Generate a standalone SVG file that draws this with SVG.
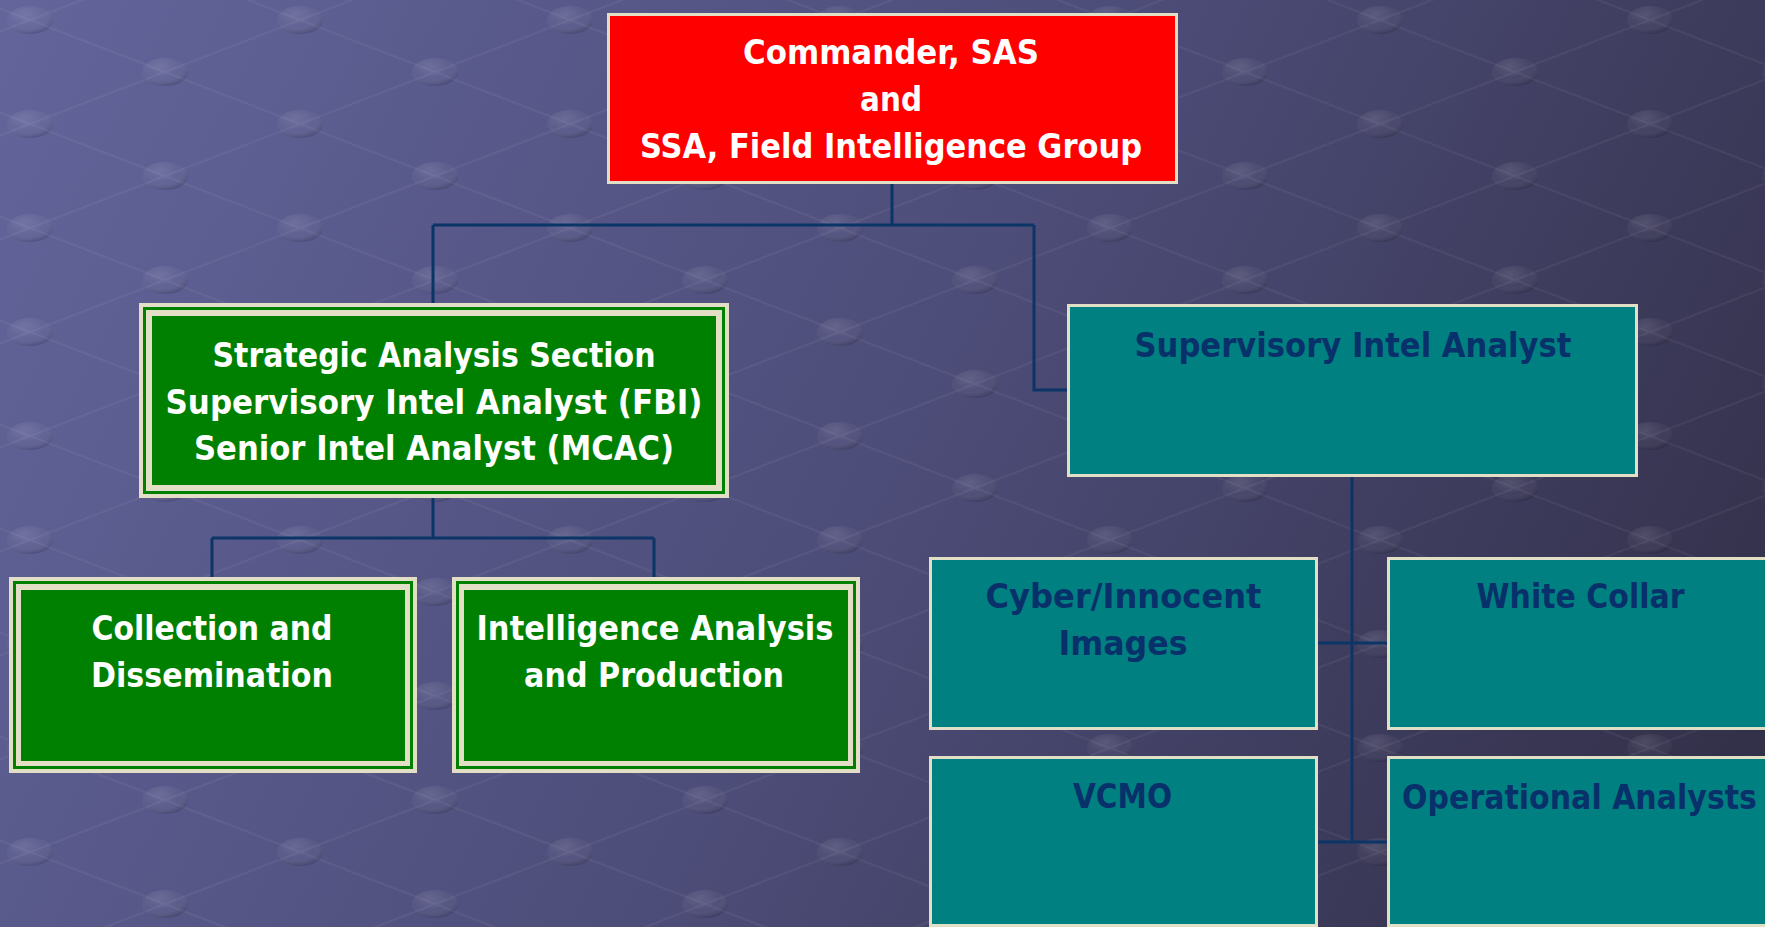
<svg xmlns="http://www.w3.org/2000/svg" width="1765" height="927" viewBox="0 0 1765 927">
<defs>
  <linearGradient id="bg" x1="0" y1="0" x2="1765" y2="927" gradientUnits="userSpaceOnUse">
    <stop offset="0" stop-color="#63659b"/>
    <stop offset="0.5" stop-color="#4d4d79"/>
    <stop offset="1" stop-color="#302d44"/>
  </linearGradient>
  <radialGradient id="dot" cx="0.4" cy="0.3" r="0.7">
    <stop offset="0" stop-color="#ffffff" stop-opacity="0.12"/>
    <stop offset="0.6" stop-color="#ffffff" stop-opacity="0.03"/>
    <stop offset="1" stop-color="#000000" stop-opacity="0.14"/>
  </radialGradient>
  <pattern id="grid" x="30" y="20" width="270" height="104" patternUnits="userSpaceOnUse">
    <path d="M0 0 L270 104 M0 104 L270 0" stroke="#ffffff" stroke-opacity="0.05" stroke-width="2" fill="none"/>
    <ellipse cx="0" cy="0" rx="23" ry="14" fill="url(#dot)"/>
    <ellipse cx="270" cy="0" rx="23" ry="14" fill="url(#dot)"/>
    <ellipse cx="0" cy="104" rx="23" ry="14" fill="url(#dot)"/>
    <ellipse cx="270" cy="104" rx="23" ry="14" fill="url(#dot)"/>
    <ellipse cx="135" cy="52" rx="23" ry="14" fill="url(#dot)"/>
  </pattern>
</defs>
<style>
  .conn{fill:none;stroke:#0b3566;stroke-width:3}
  .t{font-family:"DejaVu Sans","Liberation Sans",sans-serif;font-weight:bold;font-size:34px;text-anchor:middle}
  .w{fill:#ffffff}
  .n{fill:#08306a}
  .cream{fill:#e3dfc6}
  .green{fill:#008000}
  .red{fill:#ff0000;stroke:#e3dfc6;stroke-width:3}
  .teal{fill:#008080;stroke:#e3dfc6;stroke-width:3}
</style>

<g id="background">
  <rect x="0" y="0" width="1765" height="927" fill="url(#bg)"/>
  <rect x="0" y="0" width="1765" height="927" fill="url(#grid)"/>
</g>

<g id="connectors">
  <path class="conn" d="M892 184 V225 M433 225 H1034 M433 225 V303 M1034 225 V390 H1067"/>
  <path class="conn" d="M433 498 V538 M212 538 H654 M212 538 V577 M654 538 V577"/>
  <path class="conn" d="M1352 477 V842 M1318 643 H1387 M1318 842 H1387"/>
</g>

<g id="commander">
  <rect class="red" x="608.5" y="14.5" width="568" height="168"/>
  <text class="t w" x="891" y="64" textLength="296" lengthAdjust="spacingAndGlyphs">Commander, SAS</text>
  <text class="t w" x="891" y="111" textLength="62" lengthAdjust="spacingAndGlyphs">and</text>
  <text class="t w" x="891" y="158" textLength="502" lengthAdjust="spacingAndGlyphs">SSA, Field Intelligence Group</text>
</g>

<g id="strategic-analysis-section">
  <rect class="cream" x="139" y="303" width="590" height="195"/>
  <rect class="green" x="143" y="307" width="582" height="187"/>
  <rect class="cream" x="146" y="310" width="576" height="181"/>
  <rect class="green" x="152" y="316" width="564" height="169"/>
  <text class="t w" x="434" y="367" textLength="443" lengthAdjust="spacingAndGlyphs">Strategic Analysis Section</text>
  <text class="t w" x="434" y="414" textLength="537" lengthAdjust="spacingAndGlyphs">Supervisory Intel Analyst (FBI)</text>
  <text class="t w" x="434" y="460" textLength="480" lengthAdjust="spacingAndGlyphs">Senior Intel Analyst (MCAC)</text>
</g>

<g id="collection-dissemination">
  <rect class="cream" x="9" y="577" width="408" height="196"/>
  <rect class="green" x="13" y="581" width="400" height="188"/>
  <rect class="cream" x="16" y="584" width="394" height="182"/>
  <rect class="green" x="21" y="590" width="384" height="171"/>
  <text class="t w" x="212" y="640" textLength="241" lengthAdjust="spacingAndGlyphs">Collection and</text>
  <text class="t w" x="212" y="687" textLength="242" lengthAdjust="spacingAndGlyphs">Dissemination</text>
</g>

<g id="intelligence-analysis-production">
  <rect class="cream" x="452" y="577" width="408" height="196"/>
  <rect class="green" x="456" y="581" width="400" height="188"/>
  <rect class="cream" x="459" y="584" width="394" height="182"/>
  <rect class="green" x="464" y="590" width="384" height="171"/>
  <text class="t w" x="655" y="640" textLength="357" lengthAdjust="spacingAndGlyphs">Intelligence Analysis</text>
  <text class="t w" x="654" y="687" textLength="260" lengthAdjust="spacingAndGlyphs">and Production</text>
</g>

<g id="supervisory-intel-analyst">
  <rect class="teal" x="1068.5" y="305.5" width="568" height="170"/>
  <text class="t n" x="1353" y="357" textLength="437" lengthAdjust="spacingAndGlyphs">Supervisory Intel Analyst</text>
</g>

<g id="cyber-innocent-images">
  <rect class="teal" x="930.5" y="558.5" width="386" height="170"/>
  <text class="t n" x="1123.5" y="608" textLength="276" lengthAdjust="spacingAndGlyphs">Cyber/Innocent</text>
  <text class="t n" x="1123" y="655" textLength="129" lengthAdjust="spacingAndGlyphs">Images</text>
</g>

<g id="white-collar">
  <rect class="teal" x="1388.5" y="558.5" width="386" height="170"/>
  <text class="t n" x="1580.5" y="608" textLength="208" lengthAdjust="spacingAndGlyphs">White Collar</text>
</g>

<g id="vcmo">
  <rect class="teal" x="930.5" y="757.5" width="386" height="168"/>
  <text class="t n" x="1122.5" y="808" textLength="99" lengthAdjust="spacingAndGlyphs">VCMO</text>
</g>

<g id="operational-analysts">
  <rect class="teal" x="1388.5" y="757.5" width="386" height="168"/>
  <text class="t n" x="1579.5" y="809" textLength="355" lengthAdjust="spacingAndGlyphs">Operational Analysts</text>
</g>
</svg>
